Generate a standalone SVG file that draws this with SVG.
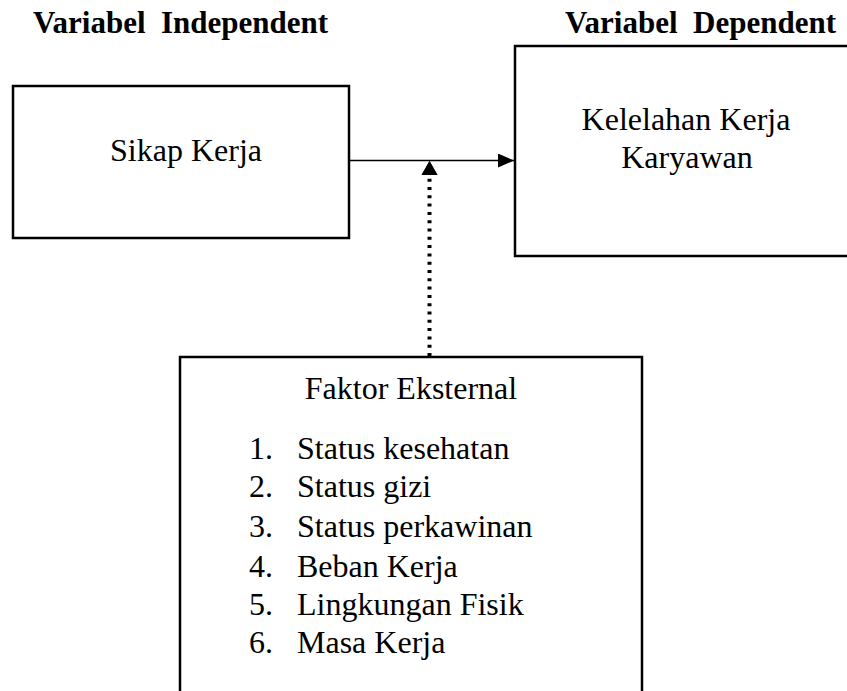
<svg xmlns="http://www.w3.org/2000/svg" width="847" height="691" viewBox="0 0 847 691">
<style>
.box{fill:#fff;stroke:#000;stroke-width:2.5}
.t{font-family:"Liberation Serif","Times New Roman",serif;font-size:32px;fill:#000}
.h{font-family:"Liberation Serif","Times New Roman",serif;font-size:31px;font-weight:bold;fill:#000}
</style>
<defs>
<marker id="ah" viewBox="0 0 16 14" refX="16" refY="7" markerWidth="16" markerHeight="14" markerUnits="userSpaceOnUse" orient="auto">
<path d="M0,0 L16,7 L0,14 Z" fill="#000"/>
</marker>
<marker id="ahv" viewBox="0 0 14 16" refX="14" refY="8" markerWidth="14" markerHeight="16" markerUnits="userSpaceOnUse" orient="auto">
<path d="M0,0 L14,8 L0,16 Z" fill="#000"/>
</marker>
</defs>
<rect width="847" height="691" fill="#fff"/>
<text class="h" x="33" y="33" xml:space="preserve">Variabel  Independent</text>
<text class="h" x="565" y="33" xml:space="preserve">Variabel  Dependent</text>
<g id="sikap">
<rect class="box" x="13" y="86" width="336" height="152"/>
<text class="t" x="186" y="161" text-anchor="middle">Sikap Kerja</text>
</g>
<g id="kelelahan">
<rect class="box" x="515" y="46" width="345" height="210"/>
<text class="t" x="686" y="130" text-anchor="middle">Kelelahan Kerja</text>
<text class="t" x="687" y="168" text-anchor="middle">Karyawan</text>
</g>
<g id="faktor">
<rect class="box" x="180" y="357" width="462" height="345"/>
<text class="t" x="411" y="399" text-anchor="middle">Faktor Eksternal</text>
<text class="t" x="249" y="459">1.</text><text class="t" x="297" y="459">Status kesehatan</text>
<text class="t" x="249" y="497">2.</text><text class="t" x="297" y="497">Status gizi</text>
<text class="t" x="249" y="537">3.</text><text class="t" x="297" y="537">Status perkawinan</text>
<text class="t" x="249" y="577">4.</text><text class="t" x="297" y="577">Beban Kerja</text>
<text class="t" x="249" y="615">5.</text><text class="t" x="297" y="615">Lingkungan Fisik</text>
<text class="t" x="249" y="653">6.</text><text class="t" x="297" y="653">Masa Kerja</text>
</g>
<g id="connectors">
<line x1="349" y1="160.5" x2="514" y2="160.5" stroke="#000" stroke-width="1.4" marker-end="url(#ah)"/>
<line x1="429.5" y1="356" x2="429.5" y2="176" stroke="#000" stroke-width="4" stroke-dasharray="3 5.3"/>
<line x1="429.5" y1="178" x2="429.5" y2="161" stroke="none" marker-end="url(#ahv)"/>
<path d="M421.5,175 L429.5,161 L437.5,175 Z" fill="#000"/>
</g>
</svg>
